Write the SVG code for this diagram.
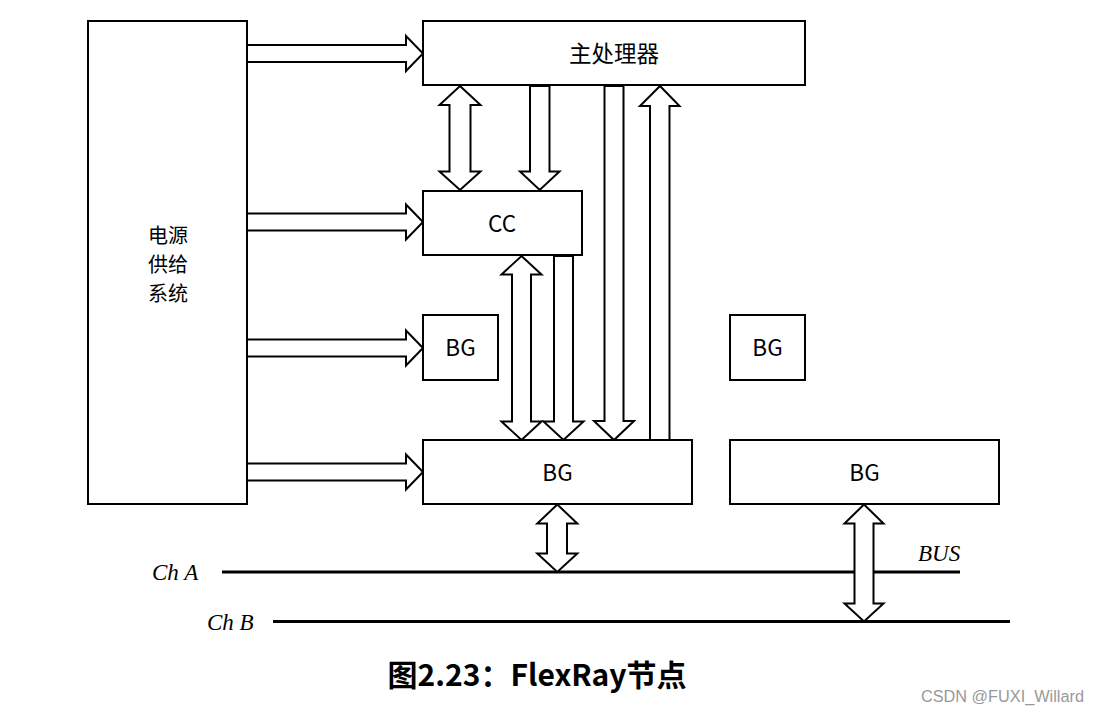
<svg xmlns="http://www.w3.org/2000/svg" width="1099" height="714" viewBox="0 0 1099 714">
<style>
.box{fill:#fff;stroke:#000;stroke-width:2}
.arr{fill:#fff;stroke:#000;stroke-width:2;stroke-linejoin:miter}
.bus{stroke:#000;stroke-width:3}
.lbl{font-family:"Noto Sans CJK SC","Noto Sans",sans-serif;font-size:22.5px;fill:#000;text-anchor:middle}
.side{font-size:20px}
.math{font-family:"Liberation Serif","DejaVu Serif",serif;font-style:italic;font-size:23px;fill:#000}
</style>
<rect width="1099" height="714" fill="#fff"/>
<g id="connectors">
<line class="bus" x1="222" y1="572" x2="960" y2="572"/>
<line class="bus" x1="273" y1="621.5" x2="1010" y2="621.5"/>
<polygon class="arr" points="247,45 406,45 406,36 423,53.5 406,71 406,62 247,62"/>
<polygon class="arr" points="247,213.5 406,213.5 406,204.5 423,222 406,239.5 406,230.5 247,230.5"/>
<polygon class="arr" points="247,339.5 406,339.5 406,330.5 423,348 406,365.5 406,356.5 247,356.5"/>
<polygon class="arr" points="247,463.5 406,463.5 406,454.5 423,472 406,489.5 406,480.5 247,480.5"/>
<polygon class="arr" points="460,86 480.5,105 470.5,105 470.5,171.5 480.5,171.5 460,190 439.5,171.5 449.5,171.5 449.5,105 439.5,105"/>
<polygon class="arr" points="530,86 549.5,86 549.5,171.5 559.5,171.5 539.7,190 520,171.5 530,171.5"/>
<polygon class="arr" points="604.5,86 623.5,86 623.5,421 634,421 614,440 594,421 604.5,421"/>
<polygon class="arr" points="660,86 679.5,106 669.5,106 669.5,440 650,440 650,106 640,106"/>
<polygon class="arr" points="521.5,256 541.5,274.5 531,274.5 531,421.5 541.5,421.5 521.5,440 501.5,421.5 512,421.5 512,274.5 501.5,274.5"/>
<polygon class="arr" points="554,256 573,256 573,421.5 583.5,421.5 563.5,440 543.5,421.5 554,421.5"/>
<polygon class="arr" points="557.3,504.5 577.3,523.5 567,523.5 567,553.5 577.3,553.5 557.3,572 537.3,553.5 547,553.5 547,523.5 537.3,523.5"/>
<polygon class="arr" points="864,504.5 883.5,523.5 873.5,523.5 873.5,603.5 883.5,603.5 864,621.5 844.5,603.5 854.5,603.5 854.5,523.5 844.5,523.5"/>
</g>
<g id="power"><rect class="box" x="88" y="21" width="159" height="483"/>
<text class="lbl side" x="168" y="243">电源</text><text class="lbl side" x="168" y="272">供给</text><text class="lbl side" x="168" y="301">系统</text></g>
<g id="main"><rect class="box" x="423" y="21" width="382" height="64"/><text class="lbl" x="614" y="62">主处理器</text></g>
<g id="cc"><rect class="box" x="423" y="191" width="159" height="64"/><text class="lbl" x="502" y="232">CC</text></g>
<g id="bg1"><rect class="box" x="423" y="315" width="75" height="65"/><text class="lbl" x="460.5" y="356">BG</text></g>
<g id="bg2"><rect class="box" x="730" y="315" width="75" height="65"/><text class="lbl" x="767.5" y="356">BG</text></g>
<g id="bg3"><rect class="box" x="423" y="440" width="269" height="64"/><text class="lbl" x="557.5" y="481">BG</text></g>
<g id="bg4"><rect class="box" x="730" y="440" width="269" height="64"/><text class="lbl" x="864.5" y="481">BG</text></g>
<text class="math" x="152" y="580">Ch A</text>
<text class="math" x="207" y="630">Ch B</text>
<text class="math" x="918" y="561">BUS</text>
<text x="537" y="686" font-family="'Noto Sans CJK SC','Noto Sans',sans-serif" font-weight="bold" font-size="30" text-anchor="middle">图2.23：FlexRay节点</text>
<text x="1084" y="702" font-family="'Liberation Sans',Arial,sans-serif" font-size="16.3" fill="#999" text-anchor="end">CSDN @FUXI_Willard</text>
</svg>
